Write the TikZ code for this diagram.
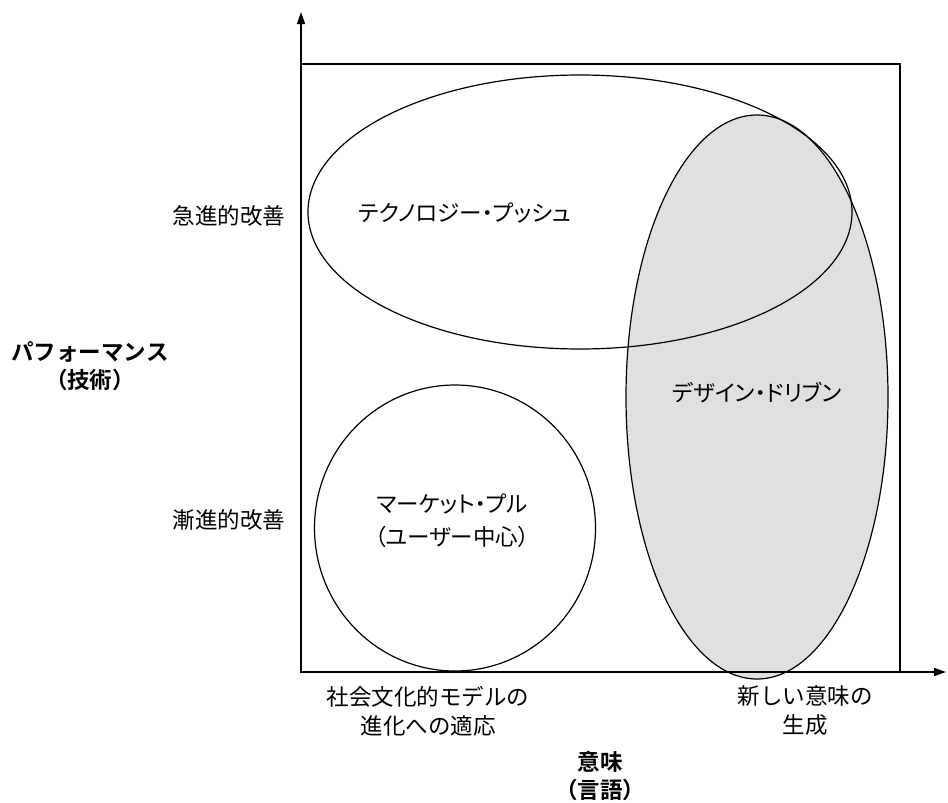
\documentclass[tikz,border=0pt]{standalone}
\usepackage{fontspec}
\setmainfont{Noto Sans CJK JP}
\newfontfamily\cjkbold{Noto Sans CJK JP Bold}
\newfontfamily\cjkprop[RawFeature=+palt]{Noto Sans CJK JP}
\usetikzlibrary{arrows.meta,shapes.geometric}
\begin{document}
\begin{tikzpicture}[x=1pt,y=-1pt,
  lbl/.style={inner sep=0pt,align=center,font=\fontsize{22.5}{29}\selectfont},
  plbl/.style={inner sep=0pt,align=center,font=\fontsize{22.5}{33}\selectfont\cjkprop},
  ax/.style={line width=1.6pt,-{Triangle[length=12pt,width=8pt]}},
  ell/.style={line width=1.2pt}]
\useasboundingbox (0,0) rectangle (948,803);
% box
\draw[line width=1.2pt] (301,64) rectangle (900,672);
% gray ellipse
\node[ell,draw,fill={rgb,255:red,224;green,224;blue,224},ellipse,minimum width=262pt,minimum height=564pt,inner sep=0pt] (dd) at (757,397) {};
% tech push
\node[ell,draw,ellipse,minimum width=544pt,minimum height=274pt,inner sep=0pt] (tp) at (580,212) {};
% market pull
\node[ell,draw,ellipse,minimum width=281pt,minimum height=286pt,inner sep=0pt] (mp) at (455,528) {};
% axes
\coordinate (o) at (301,672);
\coordinate (ytop) at (301,12);
\coordinate (xend) at (946,672);
\draw[ax] (o) -- (ytop);
\draw[ax] (o) -- (xend);
% labels
\node[plbl] (tpl) at (465,213) {テクノロジー・プッシュ};
\node[plbl] (ddl) at (757,393) {デザイン・ドリブン};
\node[plbl] (mpl) at (452,521) {マーケット・プル\\（ユーザー中心）};
\node[lbl] (y1) at (229,216) {急進的改善};
\node[lbl] (y2) at (229,520) {漸進的改善};
\node[lbl,font=\fontsize{22.5}{28}\selectfont\cjkbold] (yt) at (90,366) {パフォーマンス\\（技術）};
\node[lbl] (x1) at (428,711) {社会文化的モデルの\\進化への適応};
\node[lbl] (x2) at (805,711) {新しい意味の\\生成};
\node[lbl,font=\fontsize{22.5}{28}\selectfont\cjkbold] (xt) at (600,776) {意味\\（言語）};
\end{tikzpicture}
\end{document}
